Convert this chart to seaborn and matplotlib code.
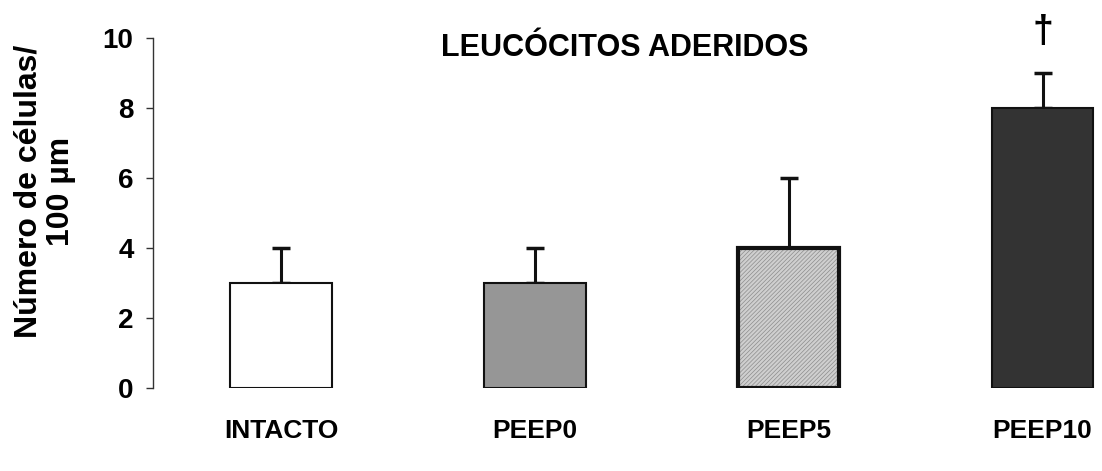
import matplotlib
matplotlib.use("Agg")
import matplotlib.pyplot as plt
import seaborn as sns
import pandas as pd
import numpy as np

categories = ["INTACTO", "PEEP0", "PEEP5", "PEEP10"]
means = [3, 3, 4, 8]
errors = [1, 1, 2, 1]
colors = ["#ffffff", "#969696", "#cfcfcf", "#333333"]
yticks = [0, 2, 4, 6, 8, 10]
title = "LEUCÓCITOS ADERIDOS"
ylabel = "Número de células/\n100 µm"
marker_text = "†"
hatched = "PEEP5"

sns.set_theme(style="white")
plt.rcParams["font.family"] = ["Liberation Sans", "DejaVu Sans"]
plt.rcParams["font.weight"] = "bold"
plt.rcParams["text.color"] = "black"
plt.rcParams["axes.labelcolor"] = "black"
plt.rcParams["xtick.color"] = "black"
plt.rcParams["ytick.color"] = "black"
plt.rcParams["hatch.linewidth"] = 0.5

df = pd.DataFrame({"grupo": categories, "valor": means})

fig = plt.figure(figsize=(11.02, 4.71), dpi=100)
ax = fig.add_axes([153 / 1102, 1 - 388 / 471, 1 - 153 / 1102, (388 - 38) / 471])

sns.barplot(data=df, x="grupo", y="valor", hue="grupo", palette=colors,
            legend=False, width=0.4, ax=ax, edgecolor="#111111", linewidth=1.5,
            saturation=1, zorder=2, order=categories)

for i, p in enumerate(ax.patches):
    if categories[i] == hatched:
        p.set_hatch("////////")
        p.set_edgecolor("#8c8c8c")
        p.set_linewidth(0)

# black outline for the hatched bar
df_h = df[df["grupo"] == hatched]
sns.barplot(data=df_h, x="grupo", y="valor", order=categories, width=0.4, ax=ax,
            fill=False, edgecolor="#111111", linewidth=3, zorder=3)

x = np.arange(len(categories))
ax.errorbar(x, means, yerr=[np.zeros(len(errors)), errors], fmt="none",
            ecolor="#111111", elinewidth=2.2, capsize=6.5, capthick=2.5, zorder=1)

ax.text(categories.index("PEEP10"), means[3] + errors[3] + 1.16, marker_text,
        ha="center", va="center", fontsize=27, fontweight="bold")

ax.set_xlim(-0.504, 3.234)
ax.set_ylim(0, 10)
ax.set_yticks(yticks)
ax.set_yticklabels([str(v) for v in yticks], fontsize=20, fontweight="bold")
ax.tick_params(axis="y", which="both", left=True, length=5, width=1, pad=9, color="#333333")
ax.set_xticks(x)
ax.set_xticklabels(categories, fontsize=19, fontweight="bold")
ax.tick_params(axis="x", length=0, pad=22)

for s in ["top", "right", "bottom"]:
    ax.spines[s].set_visible(False)
ax.spines["left"].set_color("#333333")
ax.spines["left"].set_linewidth(1)

ax.set_xlabel("")
ax.set_ylabel(ylabel, fontsize=23, fontweight="bold", linespacing=1.12)
ax.yaxis.set_label_coords((76 - 153) / 949, (388 - 191) / 350)
fig.text(625 / 1102, 1 - 48 / 471, title, fontsize=22, fontweight="bold",
         ha="center", va="center")
ax.patch.set_alpha(0)

fig.savefig("out.png", dpi=100)
